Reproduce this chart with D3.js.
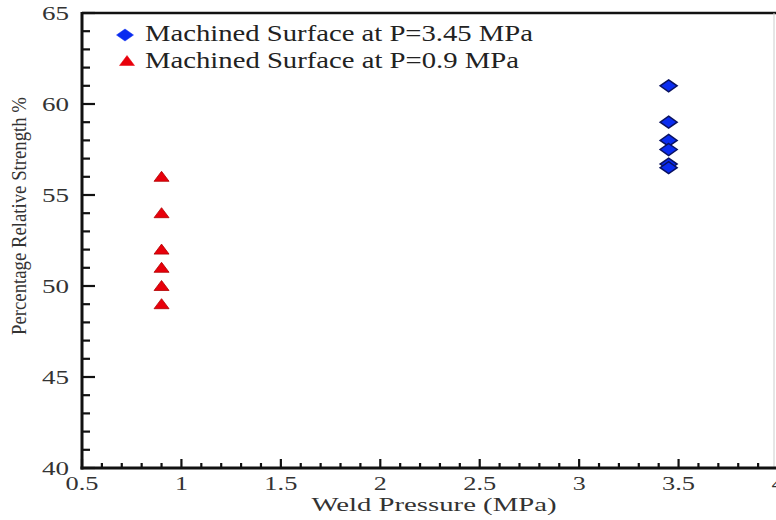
<!DOCTYPE html>
<html><head><meta charset="utf-8">
<script src="https://cdn.jsdelivr.net/npm/d3@7"></script>
<style>body{margin:0;background:#fff}svg{display:block}</style>
</head><body>
<script>
const seriesHigh = {name:"Machined Surface at P=3.45 MPa", x:3.45};
const highValues = [61, 59, 58, 57.5, 56.7, 56.5];
const lowName = "Machined Surface at P=0.9 MPa";
const lowX = 0.9;
const lowValues = [56, 54, 52, 51, 50, 49];
const xTicks = [0.5, 1, 1.5, 2, 2.5, 3, 3.5, 4];
const yTicks = [40, 45, 50, 55, 60, 65];
const xTitle = "Weld Pressure (MPa)";
const yTitle = "Percentage Relative Strength %";

const W = 776, H = 520;
const svg = d3.select("body").append("svg").attr("width", W).attr("height", H);
const x = d3.scaleLinear().domain([0.5, 4]).range([82, 778]);
const y = d3.scaleLinear().domain([40, 65]).range([468, 13]);
const font = "'Liberation Serif', 'Times New Roman', Times, serif";

// frame: top and right
svg.append("line").attr("x1", 82).attr("x2", W).attr("y1", y(65)).attr("y2", y(65))
  .attr("stroke", "#111").attr("stroke-width", 2.5);
svg.append("line").attr("x1", 774).attr("x2", 774).attr("y1", y(65)).attr("y2", y(40))
  .attr("stroke", "#ccc").attr("stroke-width", 1);

// y axis
const yMinor = d3.range(40, 65.01, 1);
const yAx = svg.append("g").attr("transform", `translate(${x(0.5)},0)`);
yAx.selectAll("line.t").data(yMinor).join("line")
  .attr("x1", 0).attr("x2", d => d % 5 === 0 ? 13 : 8)
  .attr("y1", d => y(d)).attr("y2", d => y(d))
  .attr("stroke", "#111").attr("stroke-width", 2.2);
yAx.append("line").attr("x1", 0).attr("x2", 0).attr("y1", y(65) - 1).attr("y2", y(40) + 1.5)
  .attr("stroke", "#111").attr("stroke-width", 3);
yAx.selectAll("text").data(yTicks).join("text")
  .attr("x", -13).attr("y", d => y(d) + 7)
  .attr("text-anchor", "end").attr("font-family", font).attr("font-size", 19)
  .attr("fill", "#333").attr("textLength", 27).attr("lengthAdjust", "spacingAndGlyphs")
  .text(d => d);

// x axis
const xMinor = d3.range(5, 40.01, 1).map(d => d / 10);
const xAx = svg.append("g").attr("transform", `translate(0,${y(40)})`);
xAx.selectAll("line.t").data(xMinor).join("line")
  .attr("x1", d => x(d)).attr("x2", d => x(d))
  .attr("y1", 0).attr("y2", d => Math.abs(d * 2 - Math.round(d * 2)) < 1e-6 ? -9 : -5)
  .attr("stroke", "#111").attr("stroke-width", 2.2);
xAx.append("line").attr("x1", x(0.5) - 1.5).attr("x2", W).attr("y1", 0).attr("y2", 0)
  .attr("stroke", "#111").attr("stroke-width", 3);
xAx.selectAll("text").data(xTicks).join("text")
  .attr("x", d => x(d)).attr("y", 22)
  .attr("text-anchor", "middle").attr("font-family", font).attr("font-size", 18)
  .attr("fill", "#333")
  .attr("textLength", d => String(d).length === 1 ? 13 : 33).attr("lengthAdjust", "spacingAndGlyphs")
  .text(d => d);

// axis titles
svg.append("text").attr("x", 434).attr("y", 511)
  .attr("text-anchor", "middle").attr("font-family", font).attr("font-size", 19)
  .attr("fill", "#333").attr("textLength", 245).attr("lengthAdjust", "spacingAndGlyphs")
  .text(xTitle);
svg.append("text").attr("transform", "translate(26,216) rotate(-90)")
  .attr("text-anchor", "middle").attr("font-family", font).attr("font-size", 20)
  .attr("fill", "#333").attr("textLength", 238).attr("lengthAdjust", "spacingAndGlyphs")
  .text(yTitle);

// markers
const diamond = "M0,-6 L8.5,0 L0,6 L-8.5,0 Z";
const tri = "M0,-5.5 L7.5,4.5 L-7.5,4.5 Z";
svg.append("g").selectAll("path").data(lowValues).join("path")
  .attr("d", tri).attr("transform", d => `translate(${x(lowX)},${y(d)})`)
  .attr("fill", "#e8000b").attr("stroke", "#b00000").attr("stroke-width", 0.8);
svg.append("g").selectAll("path").data(highValues).join("path")
  .attr("d", diamond).attr("transform", d => `translate(${x(seriesHigh.x)},${y(d)})`)
  .attr("fill", "#0a2cf0").attr("stroke", "#0a1260").attr("stroke-width", 1.5);

// legend
const leg = svg.append("g");
leg.append("path").attr("d", diamond).attr("transform", "translate(125,35)")
  .attr("fill", "#0a2cf0").attr("stroke", "#0a2cf0").attr("stroke-width", 0.5);
leg.append("path").attr("d", tri).attr("transform", "translate(127,61)")
  .attr("fill", "#e8000b").attr("stroke", "#e8000b").attr("stroke-width", 0.5);
leg.append("text").attr("x", 145).attr("y", 41).attr("font-family", font).attr("font-size", 23)
  .attr("fill", "#222").attr("textLength", 388).attr("lengthAdjust", "spacingAndGlyphs")
  .text(seriesHigh.name);
leg.append("text").attr("x", 145).attr("y", 68).attr("font-family", font).attr("font-size", 23)
  .attr("fill", "#222").attr("textLength", 374).attr("lengthAdjust", "spacingAndGlyphs")
  .text(lowName);
</script>
</body></html>
